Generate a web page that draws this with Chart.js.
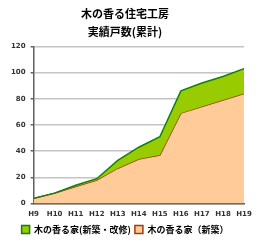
<!DOCTYPE html>
<html>
<head>
<meta charset="utf-8">
<script src="https://cdn.jsdelivr.net/npm/chart.js@4"></script>
<style>
  html, body { margin: 0; padding: 0; background: #fff; }
  #wrap { width: 260px; height: 250px; }
</style>
</head>
<body>
<div id="wrap"><canvas id="chart"></canvas></div>
<script>
// 年度ラベル
const nendo = ['H9', 'H10', 'H11', 'H12', 'H13', 'H14', 'H15', 'H16', 'H17', 'H18', 'H19'];
// 新築・改修 (累計)
const shinchikuKaishu = [4, 8, 14, 19, 33, 43, 51, 86, 92, 97, 103];
// 新築のみ (累計)
const shinchiku = [4, 8, 13, 18, 27, 34, 37, 69, 74, 79, 84];

const yTicks = [0, 20, 40, 60, 80, 100, 120];

const jpFont = "'Noto Sans CJK JP', 'Noto Sans', sans-serif";

new Chart(document.getElementById('chart'), {
    type: 'line',
    data: {
        labels: nendo,
        datasets: [{
            label: '木の香る家(新築・改修)',
            data: shinchikuKaishu,
            borderColor: '#108010',
            backgroundColor: '#99cc00',
            borderWidth: 1.5,
            pointRadius: 0,
            fill: 1,
            tension: 0
        }, {
            label: '木の香る家（新築）',
            data: shinchiku,
            borderColor: '#a03c10',
            backgroundColor: '#ffcc99',
            borderWidth: 1.5,
            pointRadius: 0,
            fill: 'origin',
            tension: 0
        }]
    },
    options: {
        responsive: true,
        maintainAspectRatio: false,
        animation: false,
        layout: { padding: { left: 6, right: 16, top: 0, bottom: 6 } },
        plugins: {
            title: {
                display: true,
                text: ['木の香る住宅工房', '実績戸数(累計)'],
                color: '#000',
                font: { family: jpFont, size: 11, weight: 'bold', lineHeight: 1.65 },
                padding: { top: 5, bottom: 5 }
            },
            legend: {
                position: 'bottom',
                labels: {
                    color: '#000',
                    font: { family: jpFont, size: 9, weight: 'bold' },
                    boxWidth: 8,
                    boxHeight: 8,
                    padding: 4
                }
            },
            tooltip: { enabled: false }
        },
        scales: {
            x: {
                grid: { display: false, drawTicks: true, tickLength: 3 },
                border: { color: '#606060', width: 1.5 },
                ticks: {
                    color: '#333',
                    font: { family: "'DejaVu Sans', sans-serif", size: 7, weight: 'bold' },
                    maxRotation: 0,
                    autoSkip: false,
                    padding: 3
                }
            },
            y: {
                min: 0,
                max: 120,
                afterBuildTicks: axis => {
                    axis.ticks = yTicks.map(v => ({ value: v }));
                },
                grid: {
                    color: '#c4c4c4',
                    lineWidth: 1.5,
                    tickLength: 3,
                    tickColor: '#606060'
                },
                border: { color: '#606060', width: 1.5 },
                ticks: {
                    color: '#333',
                    font: { family: "'DejaVu Sans', sans-serif", size: 7, weight: 'bold' },
                    padding: 5
                }
            }
        }
    }
});
</script>
</body>
</html>
